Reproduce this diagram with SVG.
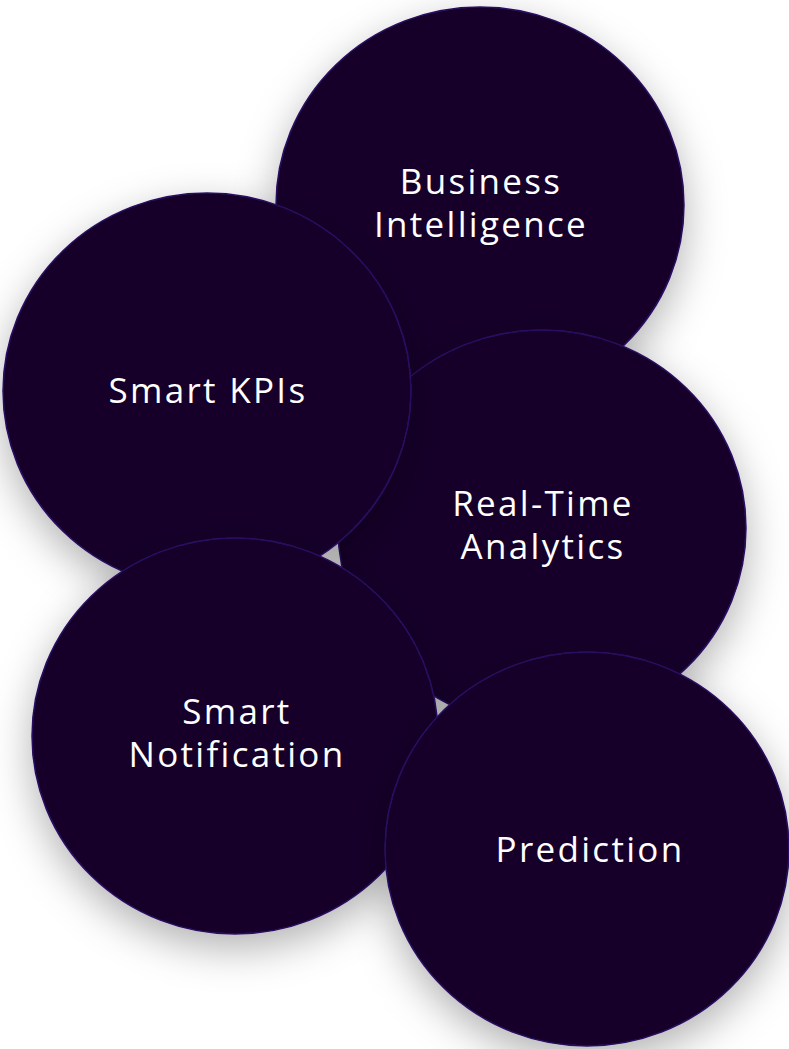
<svg xmlns="http://www.w3.org/2000/svg" width="789" height="1049" viewBox="0 0 789 1049">
<defs>
<filter id="sh" x="-30%" y="-30%" width="160%" height="160%">
<feDropShadow dx="0" dy="14" stdDeviation="20" flood-color="#000" flood-opacity="0.3"/>
</filter>
<style>
.c{fill:#13032c;stroke:#2a1163;stroke-width:1.5;filter:url(#sh)}
.t{font-family:"Open Sans","Liberation Sans",sans-serif;font-size:35px;font-weight:400;letter-spacing:2.3px;fill:#ffffff;text-anchor:middle}
</style>
</defs>
<rect width="789" height="1049" fill="#ffffff"/>
<g id="business-intelligence">
<ellipse class="c" cx="480" cy="205" rx="204" ry="198"/>
<text class="t" x="481" y="194">Business</text>
<text class="t" x="481" y="237">Intelligence</text>
</g>
<g id="real-time-analytics">
<ellipse class="c" cx="542" cy="528" rx="204" ry="198"/>
<text class="t" x="543" y="516">Real-Time</text>
<text class="t" x="543" y="559">Analytics</text>
</g>
<g id="smart-kpis">
<ellipse class="c" cx="207" cy="391" rx="204" ry="198"/>
<text class="t" x="208" y="403">Smart KPIs</text>
</g>
<g id="smart-notification">
<ellipse class="c" cx="235" cy="736" rx="203" ry="198"/>
<text class="t" x="237" y="724">Smart</text>
<text class="t" x="237" y="767">Notification</text>
</g>
<g id="prediction">
<ellipse class="c" cx="587" cy="849" rx="202" ry="197"/>
<text class="t" x="590" y="862">Prediction</text>
</g>
<g id="connectors"></g>
</svg>
